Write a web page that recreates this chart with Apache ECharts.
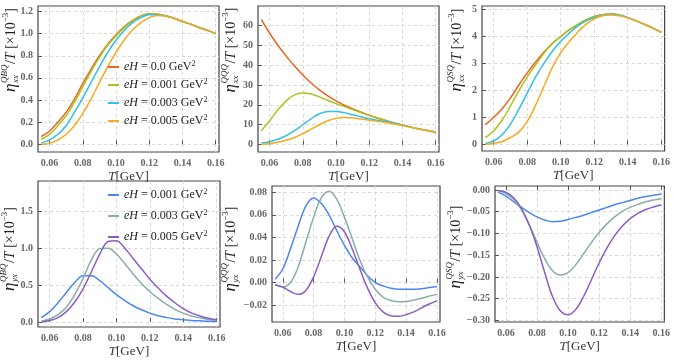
<!DOCTYPE html>
<html>
<head>
<meta charset="utf-8">
<script src="https://cdn.jsdelivr.net/npm/echarts@6/dist/echarts.min.js"></script>
<style>
html, body { margin: 0; padding: 0; background: #fff; }
#main { width: 673px; height: 364px; }
</style>
</head>
<body>
<div id="main"></div>
<script>
// 温度 T [GeV]
var T = [0.055, 0.06, 0.065, 0.07, 0.075, 0.08, 0.085, 0.09, 0.095, 0.10, 0.105,
         0.11, 0.115, 0.12, 0.125, 0.13, 0.135, 0.14, 0.145, 0.15, 0.155, 0.16];

// 上排图例 / 下排图例
var topFields = ['0.0', '0.001', '0.003', '0.005'];
var bottomFields = ['0.001', '0.003', '0.005'];

// eta_xx^QBQ / T
var xxQBQ_0   = [0.07, 0.12, 0.20, 0.29, 0.41, 0.55, 0.68, 0.80, 0.905, 0.99, 1.065, 1.12, 1.16, 1.18, 1.175, 1.16, 1.14, 1.11, 1.085, 1.055, 1.03, 1.00];
var xxQBQ_001 = [0.045, 0.09, 0.17, 0.26, 0.38, 0.52, 0.66, 0.785, 0.895, 0.98, 1.055, 1.115, 1.155, 1.178, 1.175, 1.16, 1.14, 1.11, 1.085, 1.055, 1.03, 1.00];
var xxQBQ_003 = [0.01, 0.04, 0.09, 0.17, 0.29, 0.42, 0.56, 0.70, 0.83, 0.94, 1.03, 1.10, 1.145, 1.17, 1.17, 1.16, 1.14, 1.11, 1.085, 1.055, 1.03, 1.00];
var xxQBQ_005 = [0.0, 0.01, 0.04, 0.09, 0.17, 0.28, 0.41, 0.56, 0.70, 0.83, 0.945, 1.035, 1.10, 1.145, 1.163, 1.16, 1.14, 1.11, 1.085, 1.055, 1.03, 1.00];

// eta_xx^QQQ / T
var xxQQQ_0   = [63, 56, 50, 44.5, 39.5, 35, 31, 27.5, 24.5, 22, 19.8, 18, 16.3, 14.8, 13.4, 12.1, 10.9, 9.8, 8.8, 7.9, 7.1, 6.3];
var xxQQQ_001 = [7, 12, 17.5, 22, 25, 26, 25.5, 24, 22.3, 20.6, 19.1, 17.6, 16.1, 14.6, 13.3, 12.0, 10.9, 9.8, 8.8, 7.9, 7.1, 6.3];
var xxQQQ_003 = [0.8, 1.5, 2.7, 4.5, 7, 10, 13, 15.5, 16.6, 16.7, 16.1, 15.0, 14.0, 13.0, 12.2, 11.6, 10.8, 9.8, 8.8, 7.9, 7.1, 6.3];
var xxQQQ_005 = [0.2, 0.5, 1.2, 2.2, 3.6, 5.5, 7.8, 10, 12, 13.2, 13.6, 13.4, 12.9, 12.3, 11.7, 11.1, 10.4, 9.6, 8.7, 7.9, 7.1, 6.3];

// eta_xx^QSQ / T
var xxQSQ_0   = [0.72, 1.0, 1.32, 1.72, 2.2, 2.65, 3.05, 3.42, 3.74, 4.0, 4.24, 4.44, 4.61, 4.74, 4.81, 4.83, 4.8, 4.7, 4.58, 4.45, 4.31, 4.15];
var xxQSQ_001 = [0.25, 0.5, 0.9, 1.42, 1.98, 2.5, 2.95, 3.38, 3.73, 4.0, 4.24, 4.44, 4.61, 4.74, 4.81, 4.83, 4.8, 4.7, 4.58, 4.45, 4.31, 4.15];
var xxQSQ_003 = [0.03, 0.12, 0.35, 0.75, 1.3, 1.9, 2.5, 3.0, 3.45, 3.82, 4.12, 4.38, 4.57, 4.7, 4.79, 4.82, 4.79, 4.7, 4.58, 4.45, 4.31, 4.15];
var xxQSQ_005 = [0.0, 0.03, 0.1, 0.25, 0.45, 0.85, 1.45, 2.15, 2.85, 3.4, 3.8, 4.15, 4.45, 4.65, 4.77, 4.8, 4.77, 4.69, 4.58, 4.45, 4.31, 4.15];

// eta_yx^QBQ / T
var yxQBQ_001 = [0.06, 0.14, 0.26, 0.40, 0.535, 0.625, 0.625, 0.56, 0.465, 0.37, 0.29, 0.22, 0.165, 0.12, 0.085, 0.06, 0.04, 0.03, 0.02, 0.015, 0.01, 0.008];
var yxQBQ_003 = [0.01, 0.04, 0.10, 0.20, 0.37, 0.59, 0.84, 0.995, 1.0, 0.92, 0.79, 0.65, 0.52, 0.41, 0.32, 0.24, 0.17, 0.12, 0.08, 0.055, 0.035, 0.025];
var yxQBQ_005 = [0.0, 0.02, 0.06, 0.14, 0.27, 0.45, 0.68, 0.92, 1.09, 1.10, 1.0, 0.86, 0.72, 0.58, 0.46, 0.35, 0.26, 0.18, 0.12, 0.08, 0.05, 0.03];

// eta_yx^QQQ / T
var yxQQQ_001 = [0.003, 0.012, 0.03, 0.05, 0.068, 0.075, 0.07, 0.06, 0.046, 0.033, 0.022, 0.014, 0.006, 0.0, -0.003, -0.005, -0.006, -0.006, -0.006, -0.0055, -0.0045, -0.0035];
var yxQQQ_003 = [-0.002, -0.004, 0.0, 0.014, 0.036, 0.058, 0.075, 0.081, 0.074, 0.058, 0.039, 0.02, 0.005, -0.006, -0.013, -0.016, -0.017, -0.0168, -0.0155, -0.014, -0.012, -0.0105];
var yxQQQ_005 = [-0.002, -0.004, -0.008, -0.0105, -0.007, 0.005, 0.023, 0.041, 0.05, 0.045, 0.03, 0.012, -0.005, -0.018, -0.026, -0.0295, -0.03, -0.0285, -0.026, -0.0225, -0.019, -0.016];

// eta_yx^QSQ / T
var yxQSQ_001 = [-0.005, -0.014, -0.027, -0.04, -0.052, -0.062, -0.069, -0.073, -0.072, -0.068, -0.063, -0.058, -0.052, -0.046, -0.04, -0.034, -0.029, -0.024, -0.019, -0.015, -0.012, -0.009];
var yxQSQ_003 = [-0.002, -0.008, -0.022, -0.045, -0.08, -0.12, -0.158, -0.186, -0.196, -0.19, -0.172, -0.147, -0.121, -0.098, -0.078, -0.062, -0.049, -0.04, -0.033, -0.027, -0.023, -0.02];
var yxQSQ_005 = [-0.001, -0.005, -0.018, -0.042, -0.08, -0.13, -0.19, -0.245, -0.278, -0.287, -0.275, -0.245, -0.207, -0.168, -0.134, -0.105, -0.083, -0.066, -0.054, -0.045, -0.039, -0.034];

// 刻度
var xTicks = [0.06, 0.08, 0.10, 0.12, 0.14, 0.16];
var yTicks1 = [0, 0.2, 0.4, 0.6, 0.8, 1.0, 1.2];
var yTicks2 = [0, 10, 20, 30, 40, 50, 60];
var yTicks3 = [0, 1, 2, 3, 4, 5];
var yTicks4 = [0, 0.5, 1.0, 1.5];
var yTicks5 = [-0.02, 0, 0.02, 0.04, 0.06, 0.08];
var yTicks6 = [-0.30, -0.25, -0.20, -0.15, -0.10, -0.05, 0];

var topColors = ['#ec6424', '#a9c61e', '#30bfe6', '#f8a91c'];
var bottomColors = ['#4b87f2', '#87aeaa', '#8a5ec2'];
var serif = "'Liberation Serif', 'DejaVu Serif', serif";

// 画布位置
var grids = [
    { left: 38, top: 6, width: 181, height: 146 },
    { left: 258, top: 6, width: 181, height: 146 },
    { left: 482, top: 6, width: 184, height: 145 },
    { left: 38, top: 181, width: 182, height: 146 },
    { left: 272, top: 186, width: 168, height: 136 },
    { left: 495, top: 186, width: 171, height: 136 }
];
var yRanges = [[-0.07, 1.25], [-3.7, 69.7], [-0.25, 5.13], [-0.068, 1.91], [-0.035, 0.0856], [-0.3037, 0.0092]];
var yTickSets = [yTicks1, yTicks2, yTicks3, yTicks4, yTicks5, yTicks6];
var yFormat = [
    function (v) { return v.toFixed(1); },
    function (v) { return String(Math.round(v)); },
    function (v) { return String(Math.round(v)); },
    function (v) { return v.toFixed(1); },
    function (v) { return (v < -1e-9 ? '\u2212' : '') + Math.abs(v).toFixed(2); },
    function (v) { return (v < -1e-9 ? '\u2212' : '') + Math.abs(v).toFixed(2); }
];

var xAxes = [], yAxes = [];
for (var i = 0; i < 6; i++) {
    xAxes.push({
        type: 'value', gridIndex: i, min: 0.053, max: 0.162,
        name: '{i|T}[GeV]', nameLocation: 'middle', nameGap: 18,
        nameTextStyle: {
            fontFamily: serif, fontSize: 13, color: '#333',
            rich: { i: { fontFamily: serif, fontSize: 13, fontStyle: 'italic', color: '#333' } }
        },
        axisLine: { show: false },
        axisTick: { show: true, inside: true, length: 4, customValues: xTicks, lineStyle: { color: '#555' } },
        axisLabel: {
            customValues: xTicks, margin: 6, fontFamily: serif, fontSize: 10, fontWeight: 'bold', color: '#666',
            formatter: function (v) { return v.toFixed(2); }
        },
        splitLine: { show: true, lineStyle: { type: [3, 3], color: '#d8d8d8', width: 1 } }
    });
    yAxes.push({
        type: 'value', gridIndex: i, min: yRanges[i][0], max: yRanges[i][1],
        axisLine: { show: false },
        axisTick: { show: true, inside: true, length: 4, customValues: yTickSets[i], lineStyle: { color: '#555' } },
        axisLabel: {
            customValues: yTickSets[i], margin: 5, fontFamily: serif, fontSize: 10, fontWeight: 'bold', color: '#666',
            formatter: yFormat[i]
        },
        splitLine: { show: true, lineStyle: { type: [3, 3], color: '#d8d8d8', width: 1 } }
    });
}

function line(name, idx, vals, color) {
    return {
        name: name, type: 'line', xAxisIndex: idx, yAxisIndex: idx,
        data: T.map(function (t, k) { return [t, vals[k]]; }),
        smooth: 0.35, symbol: 'none', animation: false,
        lineStyle: { width: 1.5, color: color }, itemStyle: { color: color }
    };
}

var topData = [
    [xxQBQ_0, xxQBQ_001, xxQBQ_003, xxQBQ_005],
    [xxQQQ_0, xxQQQ_001, xxQQQ_003, xxQQQ_005],
    [xxQSQ_0, xxQSQ_001, xxQSQ_003, xxQSQ_005]
];
var bottomData = [
    [yxQBQ_001, yxQBQ_003, yxQBQ_005],
    [yxQQQ_001, yxQQQ_003, yxQQQ_005],
    [yxQSQ_001, yxQSQ_003, yxQSQ_005]
];
var series = [];
topData.forEach(function (set, p) {
    set.forEach(function (vals, s) { series.push(line('a:' + topFields[s], p, vals, topColors[s])); });
});
bottomData.forEach(function (set, p) {
    set.forEach(function (vals, s) { series.push(line('b:' + bottomFields[s], p + 3, vals, bottomColors[s])); });
});

var legendText = {
    fontFamily: serif, fontSize: 12, color: '#222', lineHeight: 14,
    rich: {
        i: { fontFamily: serif, fontSize: 12, fontStyle: 'italic', color: '#222', lineHeight: 14 },
        s: { fontFamily: serif, fontSize: 8, color: '#222', lineHeight: 8, verticalAlign: 'top' }
    }
};
function legendFmt(name) { return '{i|eH} = ' + name.split(':')[1] + ' GeV{s|2}'; }

// 纵轴标题 (rotated, stacked sub/sup)
var mctx = document.createElement('canvas').getContext('2d');
function tw(txt, size, italic) {
    mctx.font = (italic ? 'italic ' : '') + size + 'px ' + serif;
    return mctx.measureText(txt).width;
}
function yLabel(cx, cy, sup, sub) {
    var big = 14, small = 9;
    var items = [];
    var x = 0;
    function put(txt, size, italic, dy) {
        items.push({ txt: txt, size: size, italic: italic, x: x, dy: dy });
        return tw(txt, size, italic);
    }
    x += put('\u03b7', 17, true, 0) + 0.5;
    var w1 = put(sup, small, true, -6);
    var w2 = put(sub, small, true, 5);
    x += Math.max(w1, w2) + 0.5;
    x += put('/', big, false, 0);
    x += put('T', big, true, 0);
    x += put(' [\u00d710', big, false, 0);
    x += put('\u22123', small, false, -5);
    x += put(']', big, false, 0);
    var half = x / 2;
    return {
        type: 'group', x: cx, y: cy, rotation: Math.PI / 2,
        children: items.map(function (it) {
            return {
                type: 'text', x: it.x - half, y: it.dy,
                style: {
                    text: it.txt, fontSize: it.size, fontFamily: serif,
                    fontStyle: it.italic ? 'italic' : 'normal', fill: '#222',
                    textAlign: 'left', textVerticalAlign: 'middle'
                }
            };
        })
    };
}

var chart = echarts.init(document.getElementById('main'));
chart.setOption({
    animation: false,
    backgroundColor: '#fff',
    grid: grids.map(function (g) {
        return { left: g.left, top: g.top, width: g.width, height: g.height, show: true, borderColor: '#444', borderWidth: 1.2, backgroundColor: 'transparent' };
    }),
    xAxis: xAxes,
    yAxis: yAxes,
    legend: [
        {
            data: topFields.map(function (f) { return 'a:' + f; }), orient: 'vertical',
            left: 103, top: 55, itemGap: 4, itemWidth: 11, itemHeight: 2, icon: 'rect',
            formatter: legendFmt, textStyle: legendText, selectedMode: false
        },
        {
            data: bottomFields.map(function (f) { return 'b:' + f; }), orient: 'vertical',
            left: 103, top: 183, itemGap: 7, itemWidth: 11, itemHeight: 2, icon: 'rect',
            formatter: legendFmt, textStyle: legendText, selectedMode: false
        }
    ],
    graphic: [
        yLabel(11, 50, 'QBQ', 'xx'),
        yLabel(231, 50, 'QQQ', 'xx'),
        yLabel(457, 50, 'QSQ', 'xx'),
        yLabel(10, 249, 'QBQ', 'yx'),
        yLabel(231, 249, 'QQQ', 'yx'),
        yLabel(456, 247, 'QSQ', 'yx')
    ],
    series: series
});
</script>
</body>
</html>
